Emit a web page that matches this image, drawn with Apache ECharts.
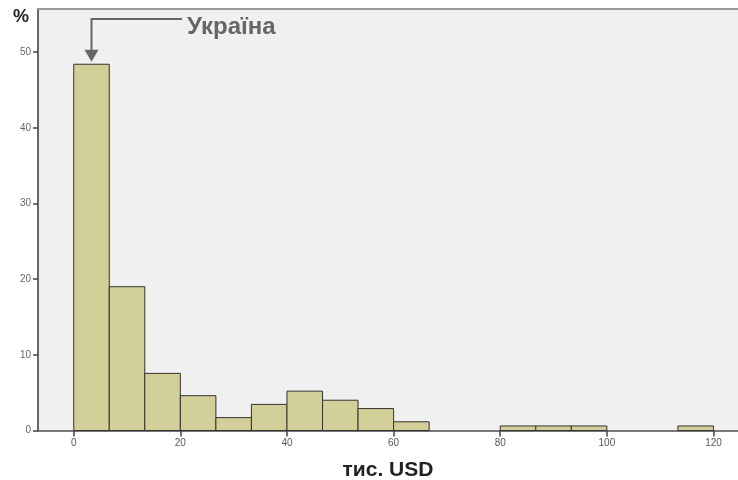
<!DOCTYPE html>
<html><head><meta charset="utf-8">
<script src="https://cdn.jsdelivr.net/npm/echarts@6/dist/echarts.min.js"></script>
<style>html,body{margin:0;padding:0;background:#fff}#c{width:738px;height:480px}</style>
</head><body><div id="c"></div>
<script>
// Histogram bins (thousand USD) and share of countries (%)
const binStart = [0, 6.67, 13.33, 20, 26.67, 33.33, 40, 46.67, 53.33, 60, 66.67, 73.33, 80, 86.67, 93.33, 100, 106.67, 113.33];
const binEnd   = [6.67, 13.33, 20, 26.67, 33.33, 40, 46.67, 53.33, 60, 66.67, 73.33, 80, 86.67, 93.33, 100, 106.67, 113.33, 120];
const percent  = [48.4, 19.0, 7.55, 4.6, 1.7, 3.45, 5.2, 4.0, 2.9, 1.15, 0, 0, 0.6, 0.6, 0.6, 0, 0, 0.6];
const xTicks = [0, 20, 40, 60, 80, 100, 120];
const yTicks = [0, 10, 20, 30, 40, 50];
const xTitle = 'тис. USD';
const yTitle = '%';
const noteText = 'Україна';
const noteBin = 0;

const FONT = '"Liberation Sans", Arial, sans-serif';
const chart = echarts.init(document.getElementById('c'), null, {renderer: 'canvas'});
const data = binStart.map((s, i) => [s, binEnd[i], percent[i]]);

chart.setOption({
  animation: false,
  textStyle: {fontFamily: FONT},
  grid: {left: 38, top: 9, right: 0, bottom: 49.5, outerBoundsMode: 'none', containLabel: false,
         show: true, backgroundColor: '#f0f0f0', borderWidth: 0},
  xAxis: [{
    type: 'value', min: -6.7, max: 124.6,
    name: xTitle, nameLocation: 'middle', nameGap: 29,
    nameTextStyle: {fontSize: 21, fontWeight: 'bold', color: '#222', fontFamily: FONT},
    axisLine: {show: true, onZero: false, lineStyle: {color: '#777', width: 2}},
    axisTick: {show: true, customValues: xTicks, length: 6, lineStyle: {color: '#444', width: 1.5}},
    axisLabel: {customValues: xTicks, color: '#555', fontSize: 10, margin: 8, fontFamily: FONT},
    splitLine: {show: false}
  }, {
    type: 'value', position: 'top', min: -6.7, max: 124.6,
    axisLine: {show: true, onZero: false, lineStyle: {color: '#999', width: 2}},
    axisTick: {show: false}, axisLabel: {show: false}, splitLine: {show: false}
  }],
  yAxis: {
    type: 'value', min: 0, max: 55.7,
    axisLine: {show: true, onZero: false, lineStyle: {color: '#666', width: 2}},
    axisTick: {show: true, customValues: yTicks, length: 5, lineStyle: {color: '#444', width: 1.5}},
    axisLabel: {customValues: yTicks, color: '#666', fontSize: 10, margin: 7, fontFamily: FONT},
    splitLine: {show: false}
  },
  series: [{
    type: 'custom',
    data: data,
    encode: {x: [0, 1], y: 2},
    renderItem: function (params, api) {
      const s = api.value(0), e = api.value(1), v = api.value(2);
      if (!(v > 0)) return null;
      const p0 = api.coord([s, 0]);
      const p1 = api.coord([e, v]);
      return {
        type: 'rect',
        shape: {x: p0[0], y: p1[1], width: p1[0] - p0[0], height: p0[1] - p1[1]},
        style: {fill: '#d3cf98', stroke: '#333', lineWidth: 1}
      };
    }
  }]
});

// annotation anchored on the first bin
const cx = (binStart[noteBin] + binEnd[noteBin]) / 2;
const tip = chart.convertToPixel({xAxisIndex: 0, yAxisIndex: 0}, [cx, percent[noteBin]]);
const ax = tip[0], tipY = tip[1] - 2.5;
const lineY = 19;
chart.setOption({
  graphic: [
    {type: 'text', left: 13, top: 8, style: {text: yTitle, font: 'bold 18px ' + FONT, fill: '#222'}},
    {type: 'polyline', shape: {points: [[182, lineY], [ax, lineY], [ax, tipY - 10]]}, style: {stroke: '#666', lineWidth: 2, fill: null}},
    {type: 'polygon', shape: {points: [[ax - 7, tipY - 12], [ax + 7, tipY - 12], [ax, tipY]]}, style: {fill: '#666'}},
    {type: 'text', x: 187, y: 15, style: {text: noteText, font: 'bold 24px ' + FONT, fill: '#666'}}
  ]
});
</script>
</body></html>
